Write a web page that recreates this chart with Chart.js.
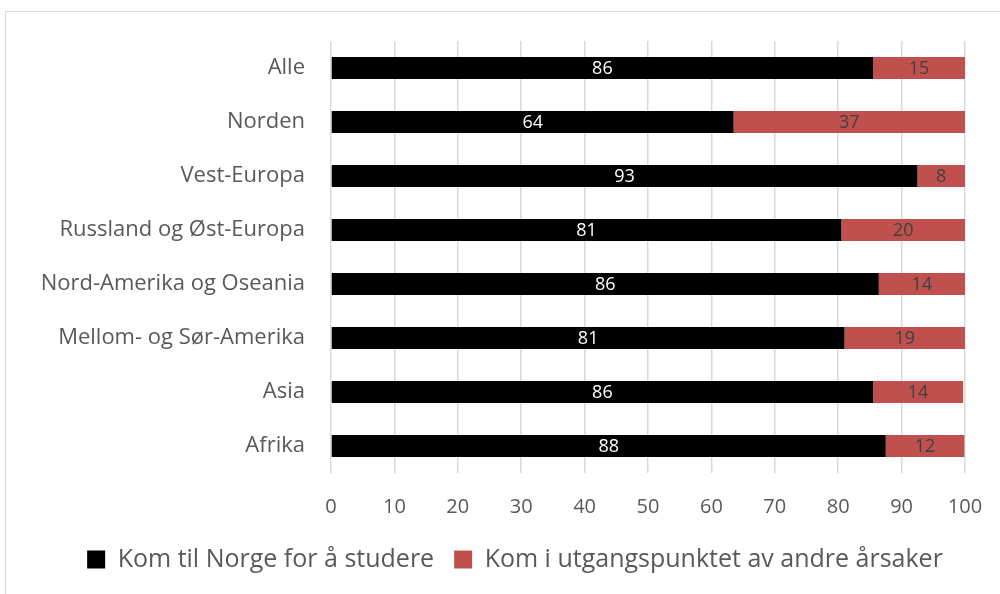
<!DOCTYPE html>
<html>
<head>
<meta charset="utf-8">
<script src="https://cdn.jsdelivr.net/npm/chart.js@4"></script>
<style>
  html, body { margin: 0; padding: 0; background: #fff; }
  #wrap { position: relative; width: 1000px; height: 594px; overflow: hidden; }
  #frame { position: absolute; left: 5px; top: 11px; width: 1100px; height: 700px; border: 1px solid #d9d9d9; }
  canvas { position: absolute; left: 0; top: 0; }
</style>
</head>
<body>
<div id="wrap">
  <div id="frame"></div>
  <canvas id="chart" width="1000" height="594"></canvas>
</div>
<script>
const categories = ['Alle', 'Norden', 'Vest-Europa', 'Russland og Øst-Europa', 'Nord-Amerika og Oseania', 'Mellom- og Sør-Amerika', 'Asia', 'Afrika'];
const studyValues = [85.5, 63.5, 92.5, 80.5, 86.4, 81.0, 85.5, 87.5];
const otherValues = [14.5, 36.5, 7.5, 19.5, 13.6, 19.0, 14.2, 12.4];
const xTicks = [0, 10, 20, 30, 40, 50, 60, 70, 80, 90, 100];

const FONT = "'Open Sans', sans-serif";
const GREY = '#595959';

const barLabels = {
  id: 'barLabels',
  afterDatasetsDraw(chart) {
    const ctx = chart.ctx;
    ctx.save();
    ctx.font = '18px ' + FONT;
    ctx.textAlign = 'center';
    ctx.textBaseline = 'middle';
    chart.data.datasets.forEach((ds, i) => {
      chart.getDatasetMeta(i).data.forEach((bar, j) => {
        const x = (bar.x + bar.base) / 2;
        ctx.fillStyle = i === 0 ? '#ffffff' : '#404040';
        ctx.fillText(String(Math.round(ds.data[j])), x, bar.y + 1);
      });
    });
    ctx.restore();
  }
};

// legend sits a bit right of the canvas centre in the original
const legendShift = {
  id: 'legendShift',
  afterLayout(chart) {
    chart.legend.left += 30;
    chart.legend.right += 30;
  }
};

new Chart(document.getElementById('chart').getContext('2d'), {
  type: 'bar',
  data: {
    labels: categories,
    datasets: [
      { label: 'Kom til Norge for å studere', data: studyValues, backgroundColor: '#000000' },
      { label: 'Kom i utgangspunktet av andre årsaker', data: otherValues, backgroundColor: '#c0504d' }
    ]
  },
  options: {
    indexAxis: 'y',
    responsive: false,
    animation: false,
    layout: { padding: { left: 5, right: 35, top: 41, bottom: 12 } },
    datasets: { bar: { categoryPercentage: 1, barPercentage: 0.41 } },
    scales: {
      x: {
        stacked: true,
        min: 0, max: 100,
        afterBuildTicks(axis) { axis.ticks = xTicks.map(v => ({ value: v })); },
        afterFit(axis) { axis.height = 54; axis.paddingLeft = 0; axis.paddingRight = 0; },
        grid: { color: '#d9d9d9', lineWidth: 1.5, drawTicks: false },
        border: { display: false },
        ticks: { color: GREY, font: { family: FONT, size: 20 }, padding: 22 }
      },
      y: {
        stacked: true,
        grid: { display: false },
        border: { display: false },
        afterFit(axis) { axis.width = 326; },
        ticks: { color: GREY, font: { family: FONT, size: 22 }, padding: 18 }
      }
    },
    plugins: {
      tooltip: { enabled: false },
      legend: {
        position: 'bottom',
        labels: {
          color: GREY,
          font: { family: FONT, size: 25 },
          boxWidth: 18, boxHeight: 18,
          padding: 20
        }
      }
    }
  },
  plugins: [barLabels, legendShift]
});
</script>
</body>
</html>
